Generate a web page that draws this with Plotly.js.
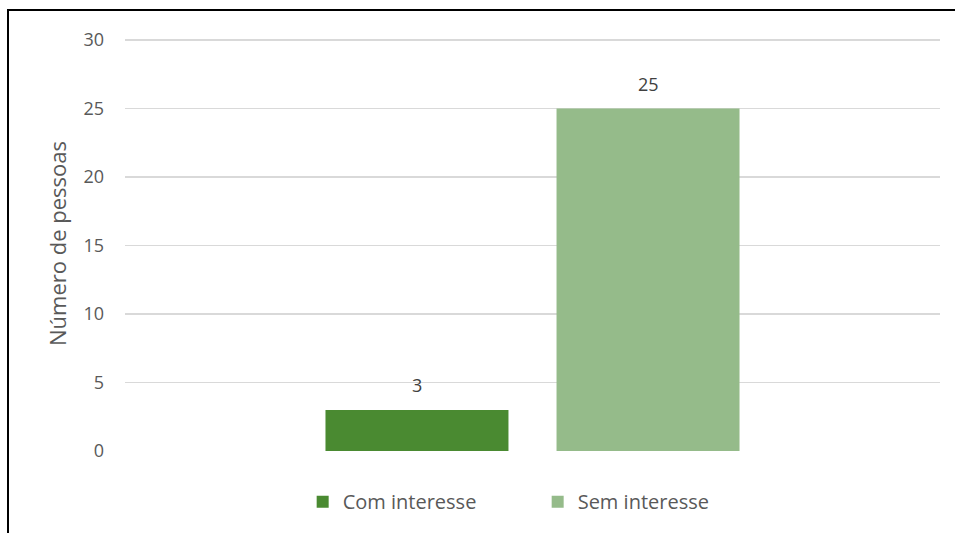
<!DOCTYPE html>
<html>
<head>
<meta charset="utf-8">
<script src="https://cdn.plot.ly/plotly-3.0.1.min.js"></script>
<style>
  html, body { margin: 0; padding: 0; background: #fff; overflow: hidden; }
  #frame { position: absolute; left: 7px; top: 9px; width: 1000px; height: 600px; border-left: 2px solid #000; border-top: 2px solid #000; }
  #chart { position: absolute; left: 0; top: 0; width: 955px; height: 533px; }
</style>
</head>
<body>
<div id="frame"></div>
<div id="chart"></div>
<script>
const categories = ['Total'];
const seriesNames = ['Com interesse', 'Sem interesse'];
const comInteresse = [3];
const semInteresse = [25];
const yTicks = [0, 5, 10, 15, 20, 25, 30];
const yTitle = 'Número de pessoas';

const fontFamily = '"Open Sans", Lato, sans-serif';
const colors = ['#4a8a31', '#95bb8a'];
const seriesValues = [comInteresse, semInteresse];
const labelShift = [-115.5, 115.5];

const traces = seriesValues.map((vals, i) => ({
  type: 'bar', name: seriesNames[i], x: categories, y: vals,
  marker: { color: colors[i] }, hoverinfo: 'none'
}));

const annotations = [];
seriesValues.forEach((vals, i) => {
  vals.forEach((v, j) => {
    annotations.push({
      x: categories[j], y: v, xref: 'x', yref: 'y', text: String(v), showarrow: false,
      xshift: labelShift[i], yshift: 25, yanchor: 'middle',
      font: { family: fontFamily, size: 18, color: '#404040' }
    });
  });
});

const layout = {
  width: 955, height: 533,
  paper_bgcolor: 'rgba(0,0,0,0)', plot_bgcolor: 'rgba(0,0,0,0)',
  margin: { l: 125, r: 15, t: 36, b: 82, autoexpand: false },
  barmode: 'group', bargap: 0.433, bargroupgap: 0.208,
  font: { family: fontFamily, color: '#595959', size: 18 },
  xaxis: { type: 'category', range: [-0.5, 0.5], showticklabels: false, showgrid: false, zeroline: false, showline: false, ticks: '' },
  yaxis: {
    range: [0, 30.3], tickvals: yTicks, ticktext: yTicks.map(String),
    showgrid: true, gridcolor: '#d9d9d9', gridwidth: 1.5, zeroline: false, showline: false,
    ticks: '', ticklabelstandoff: 20,
    tickfont: { family: fontFamily, size: 18, color: '#595959' },
    title: { text: yTitle, font: { family: fontFamily, size: 22, color: '#595959' }, standoff: 10 }
  },
  annotations: annotations,
  showlegend: true,
  legend: { orientation: 'h', x: 0.218, xanchor: 'left', y: -0.122, yanchor: 'middle',
    entrywidth: 190, entrywidthmode: 'pixels',
    font: { family: fontFamily, size: 20, color: '#595959' }, itemwidth: 30, traceorder: 'normal' }
};

Plotly.newPlot('chart', traces, layout, { displayModeBar: false, staticPlot: true });
</script>
</body>
</html>
